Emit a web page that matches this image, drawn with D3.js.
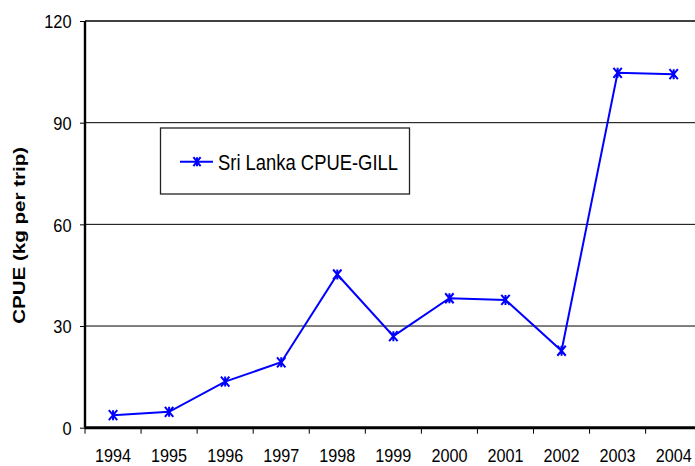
<!DOCTYPE html>
<html>
<head>
<meta charset="utf-8">
<script src="https://cdn.jsdelivr.net/npm/d3@7"></script>
<style>
html,body{margin:0;padding:0;background:#fff;}
svg{display:block;font-family:Arial,"Liberation Sans",sans-serif;}
</style>
</head>
<body>
<svg id="chart" width="695" height="466"></svg>
<script>
const years = ["1994","1995","1996","1997","1998","1999","2000","2001","2002","2003","2004"];
const cpueGill = [3.7, 4.7, 13.6, 19.3, 45.2, 27.0, 38.2, 37.7, 22.7, 104.7, 104.3];
const yTicks = [0, 30, 60, 90, 120];
const seriesName = "Sri Lanka CPUE-GILL";
const yTitle = "CPUE (kg per trip)";

const svg = d3.select("#chart");
const pLeft = 85, pRight = 701.7, pTop = 21, pBottom = 427.7;
const FONT = "Arial, 'Liberation Sans', sans-serif";

const x = d3.scaleBand().domain(years).range([pLeft, pRight]);
const y = d3.scaleLinear().domain([0, 120]).range([pBottom, pTop]);

// gridlines
svg.append("g").selectAll("line").data(yTicks.filter(d => d > 0)).join("line")
  .attr("x1", pLeft).attr("x2", 695)
  .attr("y1", d => y(d)).attr("y2", d => y(d))
  .attr("stroke", "#000").attr("stroke-width", d => d === 120 ? 1.6 : 1);

// y axis
const yAxis = svg.append("g").attr("transform", `translate(${pLeft},0)`)
  .call(d3.axisLeft(y).tickValues(yTicks).tickSize(5));
yAxis.select(".domain").attr("stroke-width", 2.4).attr("d", `M0,${pTop}V${pBottom}`);
yAxis.selectAll(".tick line").attr("stroke-width", 1);
yAxis.selectAll(".tick text")
  .attr("x", null).attr("dy", null)
  .attr("font-size", 16.4).attr("fill", "#000").attr("font-family", FONT)
  .attr("text-anchor", "end")
  .attr("transform", "translate(-13.5,6.8) scale(1,1.15)");

// x axis
const xAxis = svg.append("g").attr("transform", `translate(0,${pBottom})`)
  .call(d3.axisBottom(x).tickSize(0));
xAxis.select(".domain").attr("stroke-width", 3).attr("d", `M${pLeft},0H695`);
xAxis.selectAll(".tick text")
  .attr("y", null).attr("dy", null)
  .attr("font-size", 16.2).attr("fill", "#000").attr("font-family", FONT)
  .attr("transform", "translate(0,34.5) scale(1,1.16)");
// category boundary ticks
svg.append("g").selectAll("line").data(years).join("line")
  .attr("x1", d => x(d)).attr("x2", d => x(d))
  .attr("y1", pBottom).attr("y2", pBottom + 6)
  .attr("stroke", "#000").attr("stroke-width", 1);

// y title
svg.append("text")
  .attr("transform", `translate(24.8,${235.3}) rotate(-90)`)
  .attr("text-anchor", "middle")
  .attr("font-size", 16.3).attr("font-weight", "bold").attr("font-family", FONT)
  .attr("textLength", 177).attr("lengthAdjust", "spacingAndGlyphs")
  .text(yTitle);

const blue = "#0000FF";
const cx = d => x(d) + x.bandwidth() / 2;

// line
const line = d3.line().x((d, i) => cx(years[i])).y(d => y(d));
svg.append("path").datum(cpueGill)
  .attr("d", line).attr("fill", "none")
  .attr("stroke", blue).attr("stroke-width", 2);

// star markers
function star(g, px, py, sx, sy) {
  const p = `M${px - sx},${py - sy}L${px + sx},${py + sy}M${px - sx},${py + sy}L${px + sx},${py - sy}M${px},${py - sy}L${px},${py + sy}`;
  g.append("path").attr("d", p).attr("stroke", blue).attr("stroke-width", 2).attr("fill", "none");
}
const mg = svg.append("g");
cpueGill.forEach((v, i) => star(mg, cx(years[i]), y(v), 4.2, 5));

// legend
const lg = svg.append("g");
lg.append("rect").attr("x", 160.5).attr("y", 128).attr("width", 249).attr("height", 66)
  .attr("fill", "#fff").attr("stroke", "#222").attr("stroke-width", 1.3);
lg.append("line").attr("x1", 180).attr("x2", 213).attr("y1", 161.7).attr("y2", 161.7)
  .attr("stroke", blue).attr("stroke-width", 2);
star(lg, 197, 161.7, 3.6, 4.5);
lg.append("text").attr("x", 0).attr("y", 0).attr("font-size", 18.3).attr("fill", "#000")
  .attr("font-family", FONT)
  .attr("transform", "translate(218,170) scale(1,1.25)")
  .attr("textLength", 180).attr("lengthAdjust", "spacingAndGlyphs")
  .text(seriesName);
</script>
</body>
</html>
